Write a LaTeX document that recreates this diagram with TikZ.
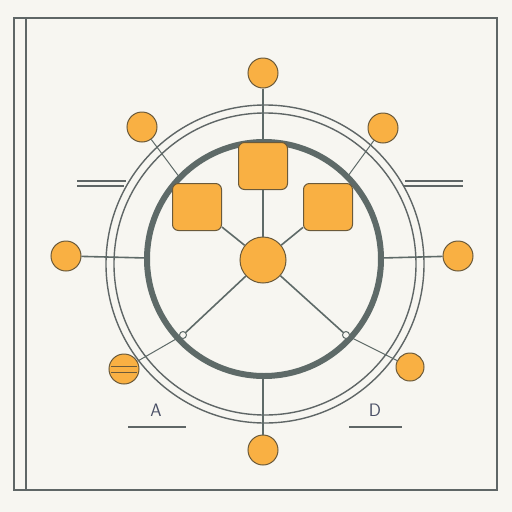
\documentclass[tikz,border=0pt]{standalone}
\usetikzlibrary{positioning}
\definecolor{paper}{HTML}{F7F6F1}
\definecolor{frame}{HTML}{5F6666}
\definecolor{ringgray}{HTML}{5E6A68}
\definecolor{hub}{HTML}{F9B043}
\definecolor{rim}{HTML}{6B5A3A}
\definecolor{ink}{HTML}{4A5066}
\begin{document}
\begin{tikzpicture}[
  x=1pt, y=-1pt,
  dot/.style={circle, draw=rim, fill=hub, line width=1pt, minimum size=30pt, inner sep=0pt},
  tile/.style={rectangle, rounded corners=6pt, draw=rim, fill=hub, line width=1pt, minimum width=49pt, minimum height=47pt, inner sep=0pt},
  spoke/.style={draw=ringgray, line width=1.6pt},
  knob/.style={circle, draw=ringgray, fill=paper, line width=1pt, minimum size=7pt, inner sep=0pt},
  tag/.style={text=ink, font=\sffamily\fontsize{18}{20}\selectfont},
  font=\sffamily
]
\fill[paper] (0,0) rectangle (512,512);
\useasboundingbox (0,0) rectangle (512,512);

% frame
\draw[frame, line width=1.5pt] (14,18) rectangle (497,490);
\draw[frame, line width=1.5pt] (26,18) -- (26,490);

% rings
\draw[frame, line width=1.4pt] (265,264) circle (159);
\draw[frame, line width=1.4pt] (265,264) circle (151);
\draw[ringgray, line width=6pt] (264,259) circle (117);

% side bars
\draw[frame, line width=1.2pt] (77,181) -- (126,181) (77,186) -- (124,186);
\draw[frame, line width=1.2pt] (405,181) -- (463,181) (403,186) -- (463,186);

% nodes
\node[dot, minimum size=46pt] (hubc) at (263,260) {};
\node[tile] (tsq) at (263,166) {};
\node[tile] (lsq) at (197,207) {};
\node[tile] (rsq) at (328,207) {};
\node[dot] (top) at (263,73) {};
\node[dot] (bot) at (263,450) {};
\node[dot] (lft) at (66,256) {};
\node[dot] (rgt) at (458,256) {};
\node[dot] (ul) at (142,127) {};
\node[dot] (ur) at (383,128) {};
\node[dot] (ll) at (124,369) {};
\node[dot, minimum size=28pt] (lr) at (410,367) {};
\coordinate (ringT) at (263,142);
\coordinate (ringB) at (263,376);
\coordinate (ringL) at (147,258);
\coordinate (ringR) at (381,258);
\coordinate (ringUL) at (180,178);
\coordinate (ringUR) at (348,176);
\node[knob] (kl) at (183,335) {};
\node[knob] (kr) at (346,335) {};

% stripes on lower left dot
\draw[rim, line width=1pt] ([xshift=-13pt,yshift=-3pt]ll.center) -- ([xshift=13pt,yshift=-3pt]ll.center);
\draw[rim, line width=1pt] ([xshift=-13pt,yshift=3pt]ll.center) -- ([xshift=13pt,yshift=3pt]ll.center);

% spokes
\draw[spoke] (top) -- (ringT);
\draw[spoke] (tsq) -- (hubc);
\draw[spoke] (lsq) -- (hubc);
\draw[spoke] (rsq) -- (hubc);
\draw[spoke] (hubc) -- (kl);
\draw[spoke] (hubc) -- (kr);
\draw[spoke] (ringB) -- (bot);
\draw[spoke] (lft) -- (ringL);
\draw[spoke] (rgt) -- (ringR);
\draw[spoke, line width=1pt] (ul) -- (ringUL);
\draw[spoke, line width=1pt] (ur) -- (ringUR);
\draw[spoke, line width=1pt] (kl) -- (ll);
\draw[spoke, line width=1pt] (kr) -- (lr);

% labels
\node[tag] (la) at (156,410) {A};
\node[tag] (ld) at (375,410) {D};
\draw[frame, line width=1.4pt] (128,427) -- (186,427);
\draw[frame, line width=1.4pt] (349,427) -- (402,427);
\end{tikzpicture}
\end{document}
